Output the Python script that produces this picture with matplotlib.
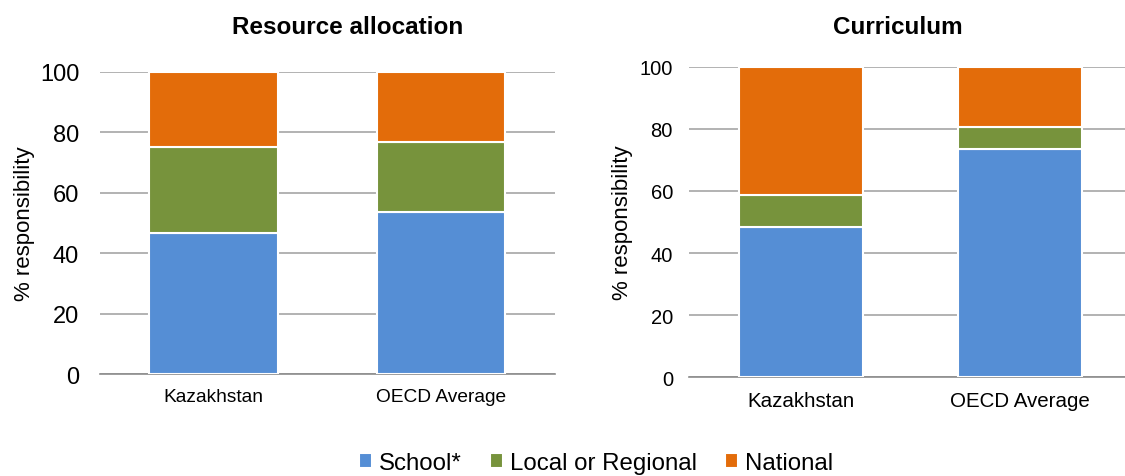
import matplotlib.pyplot as plt
import numpy as np

plt.rcParams['font.family'] = ['Liberation Sans', 'DejaVu Sans']

# data
countries = ['Kazakhstan', 'OECD Average']
series_names = ['School*', 'Local or Regional', 'National']
colors = ['#558ED5', '#77933C', '#E36C0A']

resource_school = [46.5, 53.5]
resource_local = [28.5, 23.3]
resource_national = [25.0, 23.2]

curriculum_school = [48.5, 73.5]
curriculum_local = [10.2, 7.0]
curriculum_national = [41.3, 19.5]

fig = plt.figure(figsize=(11.25, 4.77), dpi=100)
ax1 = fig.add_axes([0.0889, 0.2138, 0.4044, 0.6338])
ax2 = fig.add_axes([0.6124, 0.2075, 0.3876, 0.6500])


def draw(ax, school, local, national, tick_size, x_size, ypad, ylab_x):
    x = np.arange(len(countries))
    bottom = np.zeros(len(countries))
    handles = []
    for vals, col, name in zip([school, local, national], colors, series_names):
        h = ax.bar(x, vals, width=0.565, bottom=bottom, color=col,
                   edgecolor='white', linewidth=1.5, label=name, zorder=3)
        bottom += np.array(vals)
        handles.append(h)
    ax.set_ylim(0, 100)
    ax.set_yticks(range(0, 101, 20))
    ax.yaxis.grid(True, color='#a6a6a6', linewidth=1.2, zorder=0)
    for s in ['top', 'right', 'left']:
        ax.spines[s].set_visible(False)
    ax.spines['bottom'].set_color('#8c8c8c')
    ax.spines['bottom'].set_linewidth(1.2)
    ax.set_xticks(x)
    ax.set_xticklabels(countries, fontsize=x_size)
    ax.tick_params(axis='both', length=0)
    ax.tick_params(axis='y', labelsize=tick_size, pad=ypad)
    ax.tick_params(axis='x', pad=10)
    ax.set_ylabel('% responsibility', fontsize=16)
    ax.yaxis.set_label_coords(ylab_x, 0.5)
    return handles


handles = draw(ax1, resource_school, resource_local, resource_national,
               17, 13.8, 15, -0.142)
ax1.set_xlim(-0.5, 1.5)
draw(ax2, curriculum_school, curriculum_local, curriculum_national,
     14.5, 14.8, 11.5, -0.128)
ax2.set_xlim(-0.51, 1.48)

fig.text(348 / 1125, 1 - 28 / 477, 'Resource allocation', fontsize=17.5,
         fontweight='bold', ha='center', va='center')
fig.text(898 / 1125, 1 - 28 / 477, 'Curriculum', fontsize=17.5,
         fontweight='bold', ha='center', va='center')

fig.legend(handles, series_names, loc='center', ncol=3,
           bbox_to_anchor=(596 / 1125, 1 - 464 / 477), frameon=False,
           fontsize=17.3, handlelength=0.55, handleheight=0.55,
           handletextpad=0.3, columnspacing=1.15, borderpad=0.2)

fig.savefig('out.png', dpi=100)
